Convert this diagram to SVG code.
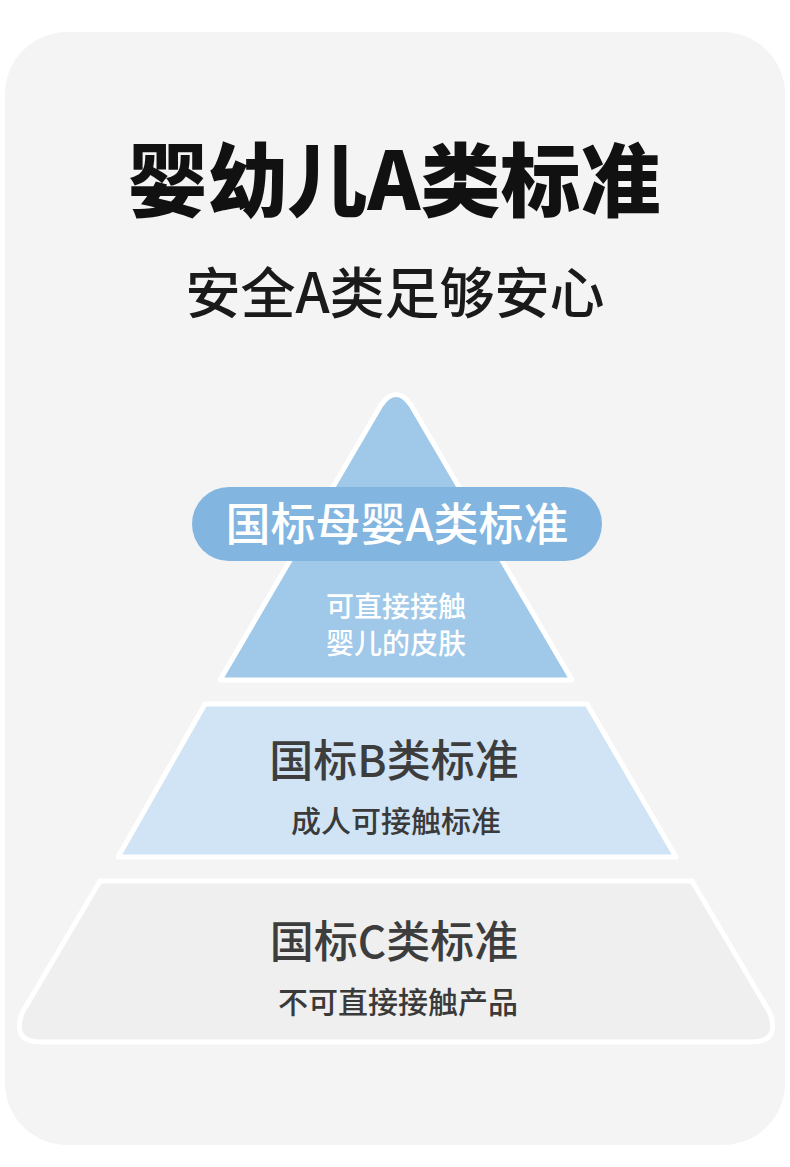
<svg xmlns="http://www.w3.org/2000/svg" width="790" height="1167" viewBox="0 0 790 1167">
<style>
text{font-family:"Noto Sans CJK SC","Noto Sans",sans-serif;text-anchor:middle}
.t1{font-size:80px;font-weight:900;fill:#111}
.t2{font-size:55px;font-weight:500;fill:#1a1a1a}
.pill{font-size:45px;font-weight:500;fill:#fff}
.wsub{font-size:28px;font-weight:500;fill:#fff}
.h{font-size:44px;font-weight:500;fill:#3d3d3d}
.s{font-size:30px;font-weight:500;fill:#3a3a3a}
.tier{stroke:#fff;stroke-width:5;stroke-linejoin:round}
</style>
<rect width="790" height="1167" fill="#ffffff"/>
<rect x="5" y="32" width="780" height="1113" rx="62" fill="#f4f4f4"/>
<g id="title">
<text class="t1" x="394" y="210">婴幼儿A类标准</text>
<text class="t2" x="395" y="313">安全A类足够安心</text>
</g>
<g id="tierC">
<path class="tier" d="M100 881 L692 881 L770 1013 Q780 1042 752 1042 L40 1042 Q12 1042 22 1013 Z" fill="#efefef"/>
<text class="h" x="394" y="958">国标C类标准</text>
<text class="s" x="398" y="1013">不可直接接触产品</text>
</g>
<g id="tierB">
<path class="tier" d="M205 704 L587 704 L676 857 L118 857 Z" fill="#d0e4f5"/>
<text class="h" x="394" y="777">国标B类标准</text>
<text class="s" x="396" y="832">成人可接触标准</text>
</g>
<g id="tierA">
<path class="tier" d="M220 680 L381 405 Q396 384 411 405 L572 680 Z" fill="#9fc8e9"/>
<rect x="192" y="487" width="410" height="74" rx="37" fill="#82b5df"/>
<text class="pill" x="397" y="541">国标母婴A类标准</text>
<text class="wsub" x="396" y="617">可直接接触</text>
<text class="wsub" x="396" y="654">婴儿的皮肤</text>
</g>
<g id="connectors"></g>
</svg>
